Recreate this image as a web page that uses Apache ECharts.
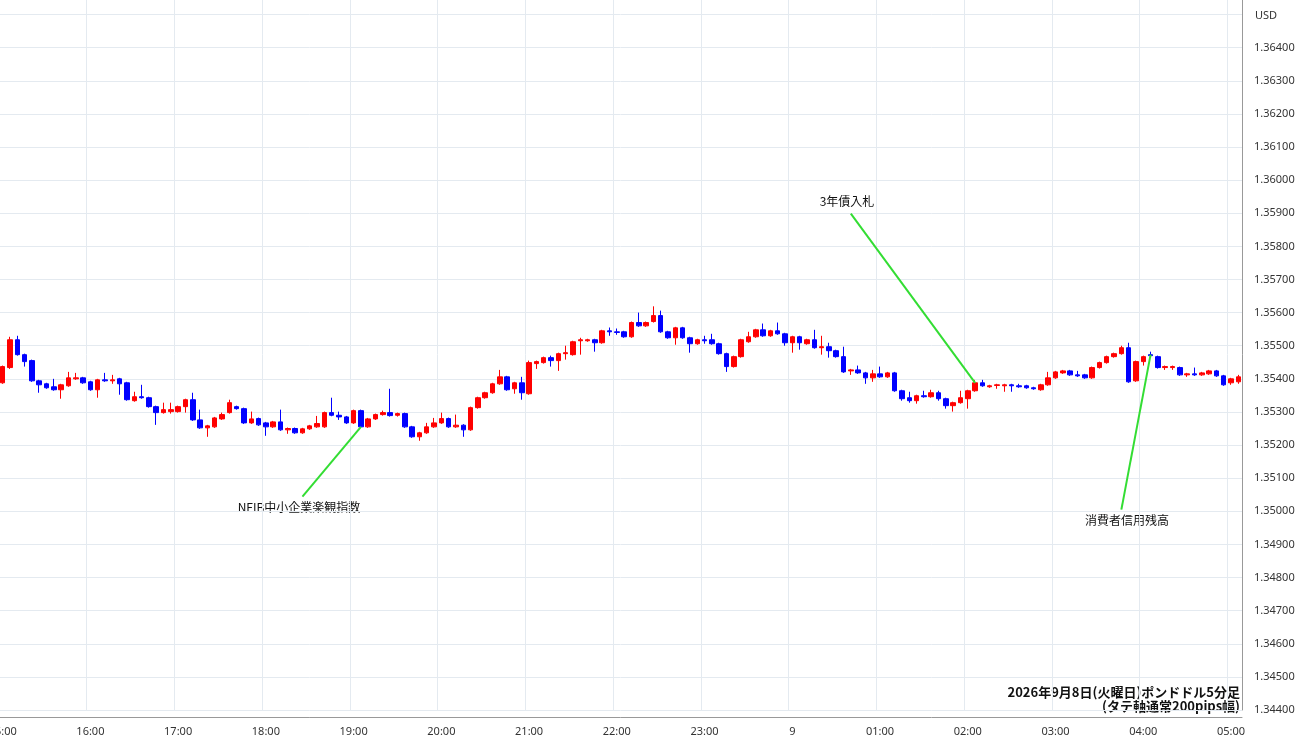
<!DOCTYPE html>
<html><head><meta charset="utf-8">
<script src="https://cdn.jsdelivr.net/npm/echarts@6/dist/echarts.min.js"></script>
<style>html,body{margin:0;padding:0;background:#fff}#c{width:1300px;height:745px}</style>
</head><body><div id="c"></div>
<script>
// values in pips above 1.35000
const opens = [38.8,43.4,51.8,47.3,45.5,39.4,38.5,37.6,36.7,37.9,40.0,40.3,39.1,36.7,39.7,39.4,40.0,38.8,33.4,34.6,34.3,31.6,29.8,30.1,30.1,31.6,33.7,27.6,25.2,25.5,27.9,29.8,31.6,31.0,26.7,28.0,26.7,25.5,27.0,24.6,25.0,23.7,24.9,25.5,25.5,29.8,29.0,28.5,26.7,30.4,25.5,27.9,29.2,29.8,29.0,29.5,25.5,22.5,23.7,25.5,26.7,28.0,25.5,26.0,24.6,31.3,34.3,35.8,38.5,40.6,37.0,38.8,35.5,44.6,44.9,46.4,45.5,47.6,47.3,51.5,51.5,51.8,50.9,54.5,54.2,54.2,52.7,57.0,56.0,57.3,59.1,54.2,52.4,55.4,52.4,50.6,51.8,51.8,50.6,47.6,43.7,46.7,51.2,52.7,54.8,53.0,54.5,53.6,50.9,52.7,50.6,51.8,49.4,49.7,48.5,46.7,42.4,42.7,41.8,40.3,41.5,40.6,41.8,36.4,34.3,33.4,34.9,34.6,35.8,34.0,31.9,32.8,34.0,36.4,38.8,37.6,38.0,37.9,38.2,37.9,37.9,37.3,36.7,38.2,40.3,41.8,42.4,41.2,41.2,40.3,43.4,44.9,46.7,47.6,49.4,39.4,45.2,47.3,46.7,43.4,43.4,43.4,41.2,41.5,41.2,41.5,42.4,40.9,38.8,39.1];
const closes = [43.7,51.8,47.3,45.2,39.4,38.2,37.3,36.7,38.2,40.3,40.3,38.8,36.7,39.7,39.4,39.7,38.5,33.7,34.6,34.3,31.6,29.8,30.7,30.7,31.6,33.7,27.6,25.2,25.8,28.2,29.2,32.8,31.0,26.7,27.9,26.1,25.5,27.0,24.6,25.0,23.7,24.9,25.8,26.5,29.8,29.0,28.5,26.7,30.4,25.5,27.9,29.2,29.8,28.9,29.5,25.5,22.5,23.7,25.5,26.7,28.0,25.5,26.0,24.6,31.3,34.3,35.8,38.5,40.6,36.7,38.8,35.8,44.9,45.2,46.4,45.5,47.6,47.9,51.2,51.8,51.8,50.9,54.5,54.2,54.0,52.7,57.0,56.0,57.0,59.1,54.2,52.4,55.4,52.4,50.6,51.8,51.5,50.6,47.6,43.7,46.7,51.8,52.7,54.8,53.0,54.5,53.6,50.9,52.7,50.9,51.8,49.4,49.7,48.5,46.7,42.1,42.7,41.8,40.3,41.5,40.6,41.8,36.4,34.0,33.4,34.9,34.6,35.8,34.0,31.9,32.8,34.3,36.4,38.8,37.9,37.9,38.2,38.2,37.9,37.6,37.3,37.0,38.2,40.3,42.1,42.4,41.2,40.9,40.3,43.4,44.9,46.7,47.6,49.4,39.1,45.2,46.7,47.0,43.4,43.7,43.7,41.2,41.5,41.2,41.8,42.4,40.9,38.2,40.0,40.6];
const lows = [38.5,43.0,47.0,43.7,39.1,35.8,37.0,36.4,34.0,37.6,39.7,38.5,36.4,34.3,39.1,38.5,35.2,33.4,33.1,34.0,31.3,26.1,29.5,29.5,29.8,29.8,27.3,24.9,22.5,25.2,27.6,29.5,30.7,26.4,26.4,25.8,22.8,25.2,24.3,23.4,23.4,23.4,24.6,25.2,25.2,28.7,27.6,26.4,26.4,25.2,25.2,27.6,28.9,28.6,28.6,25.2,22.2,21.3,23.4,25.2,26.4,25.2,25.2,22.5,24.3,31.0,34.0,35.5,38.2,36.4,35.5,33.7,35.2,43.0,44.6,43.7,42.4,45.8,47.0,47.3,51.2,48.2,50.6,53.0,53.3,52.4,52.4,55.7,55.7,57.0,53.9,52.1,50.3,52.1,47.9,50.3,50.6,50.3,47.3,42.1,43.4,46.4,50.9,52.4,52.7,52.7,53.3,50.0,47.9,48.8,50.3,49.1,47.3,46.4,46.4,41.8,41.2,41.5,38.5,39.1,40.3,40.3,36.1,33.4,32.8,32.5,34.3,34.3,33.4,31.0,30.1,32.5,31.0,36.1,37.6,37.3,37.0,36.1,36.1,37.3,37.0,36.7,36.4,37.9,40.0,41.5,40.9,40.6,40.0,40.0,43.1,44.6,46.4,47.3,38.8,39.1,44.0,46.7,43.1,42.7,42.7,40.9,40.6,40.9,40.9,41.2,40.6,37.9,38.2,38.5];
const highs = [44.0,52.7,53.0,47.6,45.8,39.7,38.8,40.0,38.5,42.1,41.8,40.6,39.4,40.0,41.8,41.2,40.3,39.1,36.1,38.2,34.6,31.9,32.8,32.8,31.9,34.0,35.8,30.7,26.1,28.5,29.8,33.7,31.9,31.3,30.1,28.3,27.0,27.3,30.7,25.3,25.3,25.2,26.1,28.8,30.1,34.3,30.1,28.8,30.7,30.7,28.2,29.5,30.4,37.0,29.8,29.8,25.8,24.0,26.7,28.2,29.8,28.3,29.2,26.3,31.6,34.6,36.1,38.8,42.7,40.9,39.1,40.6,45.5,45.5,46.7,47.0,47.9,50.0,51.5,52.4,52.1,52.1,54.8,55.5,55.2,54.5,57.3,60.0,57.3,61.9,60.6,54.5,55.7,55.7,52.7,52.1,53.0,53.6,50.9,47.9,47.0,52.1,54.2,55.1,56.7,54.8,57.0,53.9,53.0,53.0,52.1,54.8,53.0,50.9,48.8,49.7,43.0,44.0,42.1,42.7,43.7,42.1,42.1,36.7,36.1,35.2,36.4,36.7,36.4,34.3,33.1,36.4,36.7,39.7,39.7,38.2,38.5,38.5,38.5,38.5,38.2,37.6,38.5,42.1,42.4,42.7,42.7,42.4,41.5,43.7,45.2,47.0,47.9,50.0,50.9,45.5,47.0,48.2,47.0,44.0,44.0,43.7,41.8,43.4,42.1,42.7,42.7,41.2,40.3,41.2];
const yTicks = {min:1.344, max:1.3655, interval:0.001};
const hourLabels = ['15:00','16:00','17:00','18:00','19:00','20:00','21:00','22:00','23:00','9','01:00','02:00','03:00','04:00','05:00'];
const categories = [];
for (let i = 0; i < opens.length; i++) categories.push(i % 12 === 0 ? hourLabels[i/12] : '');
const toP = p => +(1.35 + p/10000).toFixed(5);
const ohlc = opens.map((o,i)=>[toP(o),toP(closes[i]),toP(lows[i]),toP(highs[i])]);
const green = '#33dd33';
const notes = [
  {from:[41,1.35044], to:[49,1.35255]},
  {from:[116,1.35899], to:[133,1.35388]},
  {from:[153,1.35005], to:[157,1.35473]}
];
const chart = echarts.init(document.getElementById('c'));
const txt = {fontFamily:'Noto Sans CJK JP', fontSize:12, fill:'#111'};
chart.setOption({
  animation:false,
  grid:{left:-1, right:58, top:-2, bottom:35, containLabel:false, outerBoundsMode:'none'},
  xAxis:{type:'category', data:categories, boundaryGap:true, offset:7,
    axisLine:{lineStyle:{color:'#999'}}, axisTick:{show:false},
    axisLabel:{interval:0, color:'#333', fontSize:11, fontFamily:'Noto Sans', margin:9},
    splitLine:{show:true, interval:(i)=>i%12===0, lineStyle:{color:'#e4eaf0'}}},
  yAxis:{type:'value', position:'right', min:yTicks.min, max:yTicks.max, interval:yTicks.interval, scale:true,
    axisLine:{show:true, lineStyle:{color:'#999'}}, axisTick:{show:false},
    axisLabel:{color:'#333', fontSize:11, fontFamily:'Noto Sans', margin:12,
      formatter:v=> v>1.36405 ? '' : v.toFixed(5)},
    splitLine:{lineStyle:{color:'#e4eaf0'}}},
  series:[{type:'candlestick', data:ohlc, barWidth:5,
    itemStyle:{color:'#ff0000', color0:'#0000ff', borderColor:'#ff0000', borderColor0:'#0000ff', borderWidth:1},
    markLine:{silent:true, symbol:['none','none'], label:{show:false},
      lineStyle:{color:green, width:2, type:'solid'},
      data:notes.map(n=>[{coord:n.from},{coord:n.to}])}
  }],
  graphic:[
    {type:'text', left:1255, top:10, style:{text:'USD', fontFamily:'Noto Sans', fontSize:11, fill:'#333'}},
    {type:'text', x:299, y:507, style:Object.assign({text:'NFIB中小企業楽観指数', align:'center', verticalAlign:'middle'}, txt)},
    {type:'text', x:847, y:201, style:Object.assign({text:'3年債入札', align:'center', verticalAlign:'middle'}, txt)},
    {type:'text', x:1127, y:520, style:Object.assign({text:'消費者信用残高', align:'center', verticalAlign:'middle'}, txt)},
    {type:'text', x:1240, y:692, style:Object.assign({text:'2026年9月8日(火曜日)ポンドドル5分足', align:'right', verticalAlign:'middle'}, txt, {fontWeight:'bold', fontSize:13})},
    {type:'text', x:1240, y:706, style:Object.assign({text:'(タテ軸通常200pips幅)', align:'right', verticalAlign:'middle'}, txt, {fontWeight:'bold', fontSize:13})}
  ]
});
</script></body></html>
